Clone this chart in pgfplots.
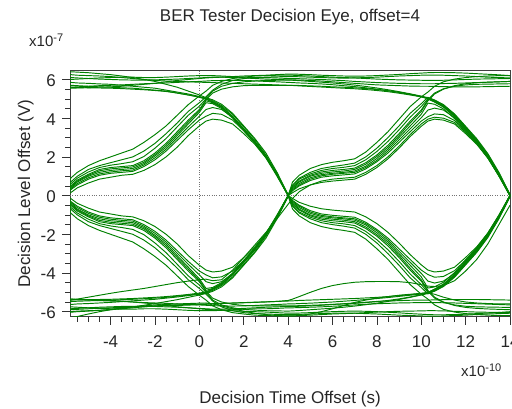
\documentclass[border=0pt]{standalone}
\usepackage{fontspec}
\setmainfont{Liberation Sans}
\usepackage{pgfplots}
\pgfplotsset{compat=1.18}
\definecolor{eyegreen}{RGB}{0,128,0}
\definecolor{txt}{RGB}{38,38,38}
\newcommand{\tf}{\fontsize{17bp}{20bp}\selectfont}
\newcommand{\mf}{\fontsize{15bp}{18bp}\selectfont}
\newcommand{\supf}{\fontsize{11bp}{12bp}\selectfont}
\begin{document}
\begin{tikzpicture}[x=1bp,y=1bp]
\useasboundingbox (0,0) rectangle (512,408);
\begin{axis}[
  at={(70bp,91.3bp)}, anchor=south west,
  scale only axis, width=440bp, height=246.7bp,
  xmin=-5.83, xmax=14, ymin=-6.26, ymax=6.49,
  xtick={-4,-2,...,14}, ytick={-6,-4,...,6},
  minor xtick={-5.5,-5,-4.5,-3.5,-3,-2.5,-1.5,-1,-0.5,0.5,1,1.5,2.5,3,3.5,4.5,5,5.5,6.5,7,7.5,8.5,9,9.5,10.5,11,11.5,12.5,13,13.5},
  minor ytick={-5.5,-5,-4.5,-3.5,-3,-2.5,-1.5,-1,-0.5,0.5,1,1.5,2.5,3,3.5,4.5,5,5.5},
  tick align=outside, xtick pos=bottom, ytick pos=left,
  major tick length=8bp, minor tick length=5bp,
  tick style={black!80, line width=0.6bp},
  axis line style={black!75, line width=0.7bp},
  /pgf/number format/assume math mode=true,
  tick label style={font=\tf, text=txt, inner sep=0pt},
  xticklabel style={anchor=base, yshift=-22.6bp},
  yticklabel style={anchor=base east, xshift=-6bp, yshift=-7bp},
  extra x ticks={0}, extra x tick labels={},
  extra x tick style={grid=major, major tick length=0pt},
  extra y ticks={0}, extra y tick labels={},
  extra y tick style={grid=major, major tick length=0pt},
  major grid style={black!55, line width=0.6bp, dash pattern=on 0.8bp off 1.6bp},
  cycle list={{eyegreen,solid}},
  every axis plot post/.append style={draw=eyegreen, solid, line width=0.95bp, mark=none},
]
% T1
\addplot coordinates {(-6,0)(-5.8,0.9)(-5.5,1.2)(-5,1.55)(-4.5,1.8)(-4,2.0)(-3.5,2.2)(-3,2.4)(-2.5,2.75)(-2,3.15)(-1.5,3.6)(-1,4.15)(-0.5,4.7)(0,5.15)(0.3,5.4)
(0.6,5.7)(1,5.9)(1.5,6.05)(2,6.12)(2.5,6.18)(3,6.2)(3.5,6.22)(4,6.22)
(4.2,6.22)(4.5,6.2)(5,6.18)(5.5,6.15)(6,6.12)(6.5,6.1)(7,6.08)(7.5,6.05)(8,6.02)(8.5,6.0)(9,5.98)(9.5,5.97)(10,5.96)(10.3,5.95)
(10.6,5.95)(11,5.96)(11.5,5.98)(12,6.0)(12.5,6.02)(13,6.03)(13.5,6.04)(14,6.05)};
% T2
\addplot coordinates {(-6,0)(-5.8,0.7)(-5.5,1.0)(-5,1.35)(-4.5,1.55)(-4,1.7)(-3.5,1.85)(-3,2.0)(-2.5,2.3)(-2,2.7)(-1.5,3.2)(-1,3.75)(-0.5,4.35)(0,4.8)(0.3,5.1)
(0.6,5.45)(1,5.75)(1.5,5.95)(2,6.05)(2.5,6.1)(3,6.12)(3.5,6.14)(4,6.15)
(4.2,6.15)(4.5,6.14)(5,6.12)(5.5,6.1)(6,6.08)(6.5,6.07)(7,6.08)(7.5,6.1)(8,6.12)(8.5,6.15)(9,6.18)(9.5,6.2)(10,6.22)(10.3,6.23)
(10.6,6.23)(11,6.22)(11.5,6.2)(12,6.18)(12.5,6.15)(13,6.12)(13.5,6.1)(14,6.08)};
% T3
\addplot coordinates {(-6,0)(-5.8,0.5)(-5.5,0.8)(-5,1.1)(-4.5,1.35)(-4,1.45)(-3.5,1.5)(-3,1.55)(-2.5,1.8)(-2,2.2)(-1.5,2.7)(-1,3.3)(-0.5,3.9)(0,4.45)(0.3,4.95)
(0.6,5.3)(1,5.5)(1.5,5.62)(2,5.68)(2.5,5.7)(3,5.7)(3.5,5.7)(4,5.7)
(4.2,5.7)(4.5,5.69)(5,5.67)(5.5,5.65)(6,5.62)(6.5,5.6)(7,5.57)(7.5,5.53)(8,5.48)(8.5,5.42)(9,5.34)(9.5,5.24)(10,5.12)(10.3,5.02)
(10.6,4.88)(11,4.62)(11.5,4.14)(12,3.5)(12.5,2.84)(13,2.08)(13.5,1.12)(14,0.04)};
% T4
\addplot coordinates {(-6,0)(-5.8,0.4)(-5.5,0.7)(-5,1.0)(-4.5,1.2)(-4,1.3)(-3.5,1.35)(-3,1.4)(-2.5,1.65)(-2,2.05)(-1.5,2.5)(-1,3.1)(-0.5,3.7)(0,4.3)(0.3,4.8)
(0.6,4.75)(1,4.5)(1.5,4.0)(2,3.35)(2.5,2.7)(3,1.95)(3.5,1.05)(4,0)
(4.2,-0.35)(4.5,-0.62)(5,-0.92)(5.5,-1.08)(6,-1.15)(6.5,-1.2)(7,-1.27)(7.5,-1.52)(8,-1.92)(8.5,-2.4)(9,-3.0)(9.5,-3.6)(10,-4.2)(10.3,-4.78)
(10.6,-4.72)(11,-4.48)(11.5,-3.98)(12,-3.33)(12.5,-2.68)(13,-1.93)(13.5,-1.03)(14,0.02)};
% T5
\addplot coordinates {(-6,0)(-5.8,0.3)(-5.5,0.55)(-5,0.85)(-4.5,1.05)(-4,1.15)(-3.5,1.2)(-3,1.25)(-2.5,1.5)(-2,1.85)(-1.5,2.3)(-1,2.85)(-0.5,3.4)(0,3.9)(0.3,4.1)
(0.6,4.25)(1,4.2)(1.5,3.9)(2,3.35)(2.5,2.75)(3,2.0)(3.5,1.05)(4,0)
(4.2,-0.25)(4.5,-0.5)(5,-0.78)(5.5,-0.95)(6,-1.02)(6.5,-1.07)(7,-1.12)(7.5,-1.38)(8,-1.75)(8.5,-2.2)(9,-2.75)(9.5,-3.3)(10,-3.85)(10.3,-4.08)
(10.6,-4.22)(11,-4.18)(11.5,-3.88)(12,-3.33)(12.5,-2.73)(13,-1.98)(13.5,-1.04)(14,0)};
% T6
\addplot coordinates {(-6,0)(-5.8,0.15)(-5.5,0.4)(-5,0.65)(-4.5,0.85)(-4,0.95)(-3.5,1.05)(-3,1.1)(-2.5,1.3)(-2,1.6)(-1.5,2.0)(-1,2.5)(-0.5,3.1)(0,3.6)(0.3,3.85)
(0.6,3.95)(1,3.9)(1.5,3.7)(2,3.2)(2.5,2.65)(3,1.95)(3.5,1.0)(4,0)
(4.2,-0.15)(4.5,-0.35)(5,-0.55)(5.5,-0.68)(6,-0.75)(6.5,-0.8)(7,-0.85)(7.5,-1.1)(8,-1.45)(8.5,-1.9)(9,-2.45)(9.5,-3.05)(10,-3.58)(10.3,-3.85)
(10.6,-3.95)(11,-3.9)(11.5,-3.7)(12,-3.2)(12.5,-2.65)(13,-1.95)(13.5,-1.0)(14,0)};
% T7
\addplot coordinates {(-6,0)(-5.8,0.45)(-5.5,0.75)(-5,1.05)(-4.5,1.28)(-4,1.38)(-3.5,1.43)(-3,1.48)(-2.5,1.72)(-2,2.12)(-1.5,2.6)(-1,3.2)(-0.5,3.8)(0,4.38)(0.3,4.9)
(0.6,4.8)(1,4.55)(1.5,4.05)(2,3.4)(2.5,2.75)(3,2.0)(3.5,1.08)(4,0)
(4.2,-0.4)(4.5,-0.7)(5,-1.0)(5.5,-1.15)(6,-1.22)(6.5,-1.27)(7,-1.35)(7.5,-1.62)(8,-2.02)(8.5,-2.5)(9,-3.1)(9.5,-3.75)(10,-4.35)(10.3,-4.9)
(10.6,-5.25)(11,-5.5)(11.5,-5.68)(12,-5.78)(12.5,-5.83)(13,-5.86)(13.5,-5.88)(14,-5.9)};
% T8
\addplot coordinates {(-6,0)(-5.8,0.6)(-5.5,0.9)(-5,1.22)(-4.5,1.45)(-4,1.57)(-3.5,1.65)(-3,1.75)(-2.5,2.02)(-2,2.45)(-1.5,2.95)(-1,3.55)(-0.5,4.15)(0,4.62)(0.3,5.0)
(0.6,5.4)(1,5.65)(1.5,5.8)(2,5.88)(2.5,5.92)(3,5.95)(3.5,5.96)(4,5.97)
(4.2,5.96)(4.5,5.94)(5,5.9)(5.5,5.86)(6,5.82)(6.5,5.77)(7,5.71)(7.5,5.64)(8,5.56)(8.5,5.47)(9,5.37)(9.5,5.26)(10,5.14)(10.3,5.06)
(10.6,4.94)(11,4.7)(11.5,4.22)(12,3.58)(12.5,2.94)(13,2.17)(13.5,1.2)(14,0.06)};
% T9
\addplot coordinates {(-6,0)(-5.8,0.35)(-5.5,0.62)(-5,0.92)(-4.5,1.12)(-4,1.22)(-3.5,1.28)(-3,1.32)(-2.5,1.58)(-2,1.95)(-1.5,2.4)(-1,2.98)(-0.5,3.55)(0,4.1)(0.3,4.45)
(0.6,4.55)(1,4.45)(1.5,4.05)(2,3.45)(2.5,2.8)(3,2.02)(3.5,1.08)(4,0)
(4.2,-0.3)(4.5,-0.55)(5,-0.85)(5.5,-1.02)(6,-1.1)(6.5,-1.15)(7,-1.2)(7.5,-1.45)(8,-1.82)(8.5,-2.3)(9,-2.88)(9.5,-3.45)(10,-4.02)(10.3,-4.42)
(10.6,-4.52)(11,-4.42)(11.5,-4.03)(12,-3.43)(12.5,-2.78)(13,-2.0)(13.5,-1.06)(14,0)};
% T10
\addplot coordinates {(-6,5.72)(-5.8,5.7)(-5.5,5.68)(-5,5.65)(-4.5,5.62)(-4,5.6)(-3.5,5.57)(-3,5.55)(-2.5,5.5)(-2,5.45)(-1.5,5.4)(-1,5.3)(-0.5,5.2)(0,5.1)(0.3,5.0)
(0.6,4.85)(1,4.6)(1.5,4.1)(2,3.45)(2.5,2.8)(3,2.05)(3.5,1.1)(4,0)
(4.2,-0.7)(4.5,-1.05)(5,-1.4)(5.5,-1.6)(6,-1.72)(6.5,-1.8)(7,-1.9)(7.5,-2.25)(8,-2.75)(8.5,-3.3)(9,-3.95)(9.5,-4.6)(10,-5.1)(10.3,-5.35)
(10.6,-5.65)(11,-5.88)(11.5,-6.02)(12,-6.1)(12.5,-6.15)(13,-6.18)(13.5,-6.2)(14,-6.2)};
% T11
\addplot coordinates {(-6,5.88)(-5.8,5.85)(-5.5,5.82)(-5,5.8)(-4.5,5.77)(-4,5.75)(-3.5,5.7)(-3,5.65)(-2.5,5.6)(-2,5.55)(-1.5,5.45)(-1,5.35)(-0.5,5.25)(0,5.12)(0.3,5.03)
(0.6,4.9)(1,4.65)(1.5,4.2)(2,3.55)(2.5,2.9)(3,2.1)(3.5,1.15)(4,0)
(4.2,-0.55)(4.5,-0.9)(5,-1.2)(5.5,-1.4)(6,-1.5)(6.5,-1.58)(7,-1.68)(7.5,-2.0)(8,-2.45)(8.5,-3.0)(9,-3.6)(9.5,-4.25)(10,-4.75)(10.3,-5.08)
(10.6,-4.93)(11,-4.68)(11.5,-4.18)(12,-3.52)(12.5,-2.88)(13,-2.1)(13.5,-1.13)(14,-0.02)};
% T12
\addplot coordinates {(-6,6.42)(-5.8,6.4)(-5.5,6.38)(-5,6.35)(-4.5,6.3)(-4,6.25)(-3.5,6.18)(-3,6.1)(-2.5,6.0)(-2,5.9)(-1.5,5.75)(-1,5.6)(-0.5,5.4)(0,5.2)(0.3,5.06)
(0.6,4.95)(1,4.72)(1.5,4.25)(2,3.6)(2.5,2.95)(3,2.2)(3.5,1.2)(4,0.05)
(4.2,-0.45)(4.5,-0.75)(5,-1.05)(5.5,-1.22)(6,-1.3)(6.5,-1.35)(7,-1.42)(7.5,-1.7)(8,-2.1)(8.5,-2.6)(9,-3.2)(9.5,-3.85)(10,-4.42)(10.3,-4.95)
(10.6,-5.3)(11,-5.52)(11.5,-5.65)(12,-5.72)(12.5,-5.75)(13,-5.76)(13.5,-5.77)(14,-5.78)};
% T13
\addplot coordinates {(-6,5.6)(-5.8,5.6)(-5.5,5.58)(-5,5.57)(-4.5,5.56)(-4,5.55)(-3.5,5.53)(-3,5.5)(-2.5,5.47)(-2,5.43)(-1.5,5.38)(-1,5.3)(-0.5,5.2)(0,5.08)(0.3,4.98)
(0.6,4.82)(1,4.58)(1.5,4.08)(2,3.42)(2.5,2.78)(3,2.02)(3.5,1.12)(4,0.02)
(4.2,-0.5)(4.5,-0.85)(5,-1.12)(5.5,-1.3)(6,-1.4)(6.5,-1.46)(7,-1.55)(7.5,-1.85)(8,-2.28)(8.5,-2.8)(9,-3.4)(9.5,-4.05)(10,-4.6)(10.3,-5.0)
(10.6,-4.85)(11,-4.6)(11.5,-4.1)(12,-3.45)(12.5,-2.8)(13,-2.05)(13.5,-1.1)(14,0)};
% T14
\addplot coordinates {(-6,6.0)(-5.8,6.0)(-5.5,6.02)(-5,6.05)(-4.5,6.08)(-4,6.1)(-3.5,6.12)(-3,6.12)(-2.5,6.1)(-2,6.1)(-1.5,6.12)(-1,6.15)(-0.5,6.18)(0,6.2)(0.3,6.2)
(0.6,6.2)(1,6.18)(1.5,6.15)(2,6.12)(2.5,6.1)(3,6.1)(3.5,6.08)(4,6.05)
(4.2,6.05)(4.5,6.04)(5,6.02)(5.5,6.0)(6,5.97)(6.5,5.94)(7,5.9)(7.5,5.87)(8,5.84)(8.5,5.82)(9,5.8)(9.5,5.79)(10,5.78)(10.3,5.78)
(10.6,5.78)(11,5.79)(11.5,5.8)(12,5.82)(12.5,5.84)(13,5.86)(13.5,5.88)(14,5.9)};
% T15
\addplot coordinates {(-6,5.58)(-5.8,5.6)(-5.5,5.62)(-5,5.65)(-4.5,5.68)(-4,5.7)(-3.5,5.72)(-3,5.75)(-2.5,5.78)(-2,5.8)(-1.5,5.82)(-1,5.85)(-0.5,5.88)(0,5.9)(0.3,5.92)
(0.6,5.94)(1,5.95)(1.5,5.96)(2,5.95)(2.5,5.93)(3,5.9)(3.5,5.88)(4,5.85)
(4.2,5.84)(4.5,5.82)(5,5.8)(5.5,5.77)(6,5.73)(6.5,5.68)(7,5.63)(7.5,5.57)(8,5.5)(8.5,5.42)(9,5.33)(9.5,5.23)(10,5.12)(10.3,5.04)
(10.6,4.9)(11,4.66)(11.5,4.18)(12,3.55)(12.5,2.9)(13,2.12)(13.5,1.16)(14,0.03)};
% T16
\addplot coordinates {(-6,6.28)(-5.8,6.25)(-5.5,6.22)(-5,6.2)(-4.5,6.18)(-4,6.15)(-3.5,6.1)(-3,6.05)(-2.5,6.0)(-2,5.95)(-1.5,5.92)(-1,5.9)(-0.5,5.88)(0,5.86)(0.3,5.85)
(0.6,5.84)(1,5.82)(1.5,5.8)(2,5.78)(2.5,5.76)(3,5.74)(3.5,5.72)(4,5.7)
(4.2,5.69)(4.5,5.67)(5,5.64)(5.5,5.61)(6,5.58)(6.5,5.55)(7,5.52)(7.5,5.48)(8,5.43)(8.5,5.37)(9,5.29)(9.5,5.2)(10,5.1)(10.3,5.0)
(10.6,4.83)(11,4.57)(11.5,4.07)(12,3.4)(12.5,2.76)(13,2.0)(13.5,1.07)(14,-0.02)};
% T17
\addplot coordinates {(-6,5.55)(-5.8,5.55)(-5.5,5.56)(-5,5.58)(-4.5,5.6)(-4,5.62)(-3.5,5.65)(-3,5.7)(-2.5,5.75)(-2,5.8)(-1.5,5.88)(-1,5.95)(-0.5,6.0)(0,6.05)(0.3,6.08)
(0.6,6.1)(1,6.12)(1.5,6.15)(2,6.18)(2.5,6.2)(3,6.22)(3.5,6.25)(4,6.28)
(4.2,6.28)(4.5,6.27)(5,6.25)(5.5,6.22)(6,6.2)(6.5,6.18)(7,6.17)(7.5,6.18)(8,6.2)(8.5,6.23)(9,6.26)(9.5,6.3)(10,6.33)(10.3,6.35)
(10.6,6.36)(11,6.36)(11.5,6.35)(12,6.33)(12.5,6.3)(13,6.27)(13.5,6.24)(14,6.2)};
% T18
\addplot coordinates {(-6,6.1)(-5.8,6.1)(-5.5,6.08)(-5,6.05)(-4.5,6.02)(-4,6.0)(-3.5,5.98)(-3,5.97)(-2.5,5.97)(-2,5.98)(-1.5,6.0)(-1,6.02)(-0.5,6.05)(0,6.08)(0.3,6.1)
(0.6,6.12)(1,6.12)(1.5,6.1)(2,6.08)(2.5,6.05)(3,6.02)(3.5,6.0)(4,5.98)
(4.2,5.98)(4.5,5.97)(5,5.95)(5.5,5.92)(6,5.88)(6.5,5.84)(7,5.8)(7.5,5.76)(8,5.72)(8.5,5.7)(9,5.68)(9.5,5.66)(10,5.65)(10.3,5.65)
(10.6,5.64)(11,5.63)(11.5,5.62)(12,5.62)(12.5,5.62)(13,5.63)(13.5,5.64)(14,5.65)};
% M1
\addplot coordinates {(-6,0)(-5.8,-0.9)(-5.5,-1.2)(-5,-1.55)(-4.5,-1.8)(-4,-2.0)(-3.5,-2.2)(-3,-2.4)(-2.5,-2.75)(-2,-3.15)(-1.5,-3.6)(-1,-4.15)(-0.5,-4.7)(0,-5.15)(0.3,-5.4)
(0.6,-5.7)(1,-5.9)(1.5,-6.05)(2,-6.12)(2.5,-6.18)(3,-6.2)(3.5,-6.22)(4,-6.22)
(4.2,-6.22)(4.5,-6.2)(5,-6.18)(5.5,-6.15)(6,-6.12)(6.5,-6.1)(7,-6.08)(7.5,-6.05)(8,-6.02)(8.5,-6.0)(9,-5.98)(9.5,-5.97)(10,-5.96)(10.3,-5.95)
(10.6,-5.95)(11,-5.96)(11.5,-5.98)(12,-6.0)(12.5,-6.02)(13,-6.03)(13.5,-6.04)(14,-6.05)};
% M2
\addplot coordinates {(-6,0)(-5.8,-0.7)(-5.5,-1.0)(-5,-1.35)(-4.5,-1.55)(-4,-1.7)(-3.5,-1.85)(-3,-2.0)(-2.5,-2.3)(-2,-2.7)(-1.5,-3.2)(-1,-3.75)(-0.5,-4.35)(0,-4.8)(0.3,-5.1)
(0.6,-5.45)(1,-5.75)(1.5,-5.95)(2,-6.05)(2.5,-6.1)(3,-6.12)(3.5,-6.14)(4,-6.15)
(4.2,-6.15)(4.5,-6.14)(5,-6.12)(5.5,-6.1)(6,-6.08)(6.5,-6.07)(7,-6.08)(7.5,-6.1)(8,-6.12)(8.5,-6.15)(9,-6.18)(9.5,-6.2)(10,-6.22)(10.3,-6.23)
(10.6,-6.23)(11,-6.22)(11.5,-6.2)(12,-6.18)(12.5,-6.15)(13,-6.12)(13.5,-6.1)(14,-6.08)};
% M3
\addplot coordinates {(-6,0)(-5.8,-0.5)(-5.5,-0.8)(-5,-1.1)(-4.5,-1.35)(-4,-1.45)(-3.5,-1.5)(-3,-1.55)(-2.5,-1.8)(-2,-2.2)(-1.5,-2.7)(-1,-3.3)(-0.5,-3.9)(0,-4.45)(0.3,-4.95)
(0.6,-5.3)(1,-5.5)(1.5,-5.62)(2,-5.68)(2.5,-5.7)(3,-5.7)(3.5,-5.7)(4,-5.7)
(4.2,-5.7)(4.5,-5.69)(5,-5.67)(5.5,-5.65)(6,-5.62)(6.5,-5.6)(7,-5.57)(7.5,-5.53)(8,-5.48)(8.5,-5.42)(9,-5.34)(9.5,-5.24)(10,-5.12)(10.3,-5.02)
(10.6,-4.88)(11,-4.62)(11.5,-4.14)(12,-3.5)(12.5,-2.84)(13,-2.08)(13.5,-1.12)(14,-0.04)};
% M4
\addplot coordinates {(-6,0)(-5.8,-0.4)(-5.5,-0.7)(-5,-1.0)(-4.5,-1.2)(-4,-1.3)(-3.5,-1.35)(-3,-1.4)(-2.5,-1.65)(-2,-2.05)(-1.5,-2.5)(-1,-3.1)(-0.5,-3.7)(0,-4.3)(0.3,-4.8)
(0.6,-4.75)(1,-4.5)(1.5,-4.0)(2,-3.35)(2.5,-2.7)(3,-1.95)(3.5,-1.05)(4,0)
(4.2,0.35)(4.5,0.62)(5,0.92)(5.5,1.08)(6,1.15)(6.5,1.2)(7,1.27)(7.5,1.52)(8,1.92)(8.5,2.4)(9,3.0)(9.5,3.6)(10,4.2)(10.3,4.78)
(10.6,4.72)(11,4.48)(11.5,3.98)(12,3.33)(12.5,2.68)(13,1.93)(13.5,1.03)(14,-0.02)};
% M5
\addplot coordinates {(-6,0)(-5.8,-0.3)(-5.5,-0.55)(-5,-0.85)(-4.5,-1.05)(-4,-1.15)(-3.5,-1.2)(-3,-1.25)(-2.5,-1.5)(-2,-1.85)(-1.5,-2.3)(-1,-2.85)(-0.5,-3.4)(0,-3.9)(0.3,-4.1)
(0.6,-4.25)(1,-4.2)(1.5,-3.9)(2,-3.35)(2.5,-2.75)(3,-2.0)(3.5,-1.05)(4,0)
(4.2,0.25)(4.5,0.5)(5,0.78)(5.5,0.95)(6,1.02)(6.5,1.07)(7,1.12)(7.5,1.38)(8,1.75)(8.5,2.2)(9,2.75)(9.5,3.3)(10,3.85)(10.3,4.08)
(10.6,4.22)(11,4.18)(11.5,3.88)(12,3.33)(12.5,2.73)(13,1.98)(13.5,1.04)(14,0)};
% M6
\addplot coordinates {(-6,0)(-5.8,-0.15)(-5.5,-0.4)(-5,-0.65)(-4.5,-0.85)(-4,-0.95)(-3.5,-1.05)(-3,-1.1)(-2.5,-1.3)(-2,-1.6)(-1.5,-2.0)(-1,-2.5)(-0.5,-3.1)(0,-3.6)(0.3,-3.85)
(0.6,-3.95)(1,-3.9)(1.5,-3.7)(2,-3.2)(2.5,-2.65)(3,-1.95)(3.5,-1.0)(4,0)
(4.2,0.15)(4.5,0.35)(5,0.55)(5.5,0.68)(6,0.75)(6.5,0.8)(7,0.85)(7.5,1.1)(8,1.45)(8.5,1.9)(9,2.45)(9.5,3.05)(10,3.58)(10.3,3.85)
(10.6,3.95)(11,3.9)(11.5,3.7)(12,3.2)(12.5,2.65)(13,1.95)(13.5,1.0)(14,0)};
% M7
\addplot coordinates {(-6,0)(-5.8,-0.45)(-5.5,-0.75)(-5,-1.05)(-4.5,-1.28)(-4,-1.38)(-3.5,-1.43)(-3,-1.48)(-2.5,-1.72)(-2,-2.12)(-1.5,-2.6)(-1,-3.2)(-0.5,-3.8)(0,-4.38)(0.3,-4.9)
(0.6,-4.8)(1,-4.55)(1.5,-4.05)(2,-3.4)(2.5,-2.75)(3,-2.0)(3.5,-1.08)(4,0)
(4.2,0.4)(4.5,0.7)(5,1.0)(5.5,1.15)(6,1.22)(6.5,1.27)(7,1.35)(7.5,1.62)(8,2.02)(8.5,2.5)(9,3.1)(9.5,3.75)(10,4.35)(10.3,4.9)
(10.6,5.25)(11,5.5)(11.5,5.68)(12,5.78)(12.5,5.83)(13,5.86)(13.5,5.88)(14,5.9)};
% M8
\addplot coordinates {(-6,0)(-5.8,-0.6)(-5.5,-0.9)(-5,-1.22)(-4.5,-1.45)(-4,-1.57)(-3.5,-1.65)(-3,-1.75)(-2.5,-2.02)(-2,-2.45)(-1.5,-2.95)(-1,-3.55)(-0.5,-4.15)(0,-4.62)(0.3,-5.0)
(0.6,-5.4)(1,-5.65)(1.5,-5.8)(2,-5.88)(2.5,-5.92)(3,-5.95)(3.5,-5.96)(4,-5.97)
(4.2,-5.96)(4.5,-5.94)(5,-5.9)(5.5,-5.86)(6,-5.82)(6.5,-5.77)(7,-5.71)(7.5,-5.64)(8,-5.56)(8.5,-5.47)(9,-5.37)(9.5,-5.26)(10,-5.14)(10.3,-5.06)
(10.6,-4.94)(11,-4.7)(11.5,-4.22)(12,-3.58)(12.5,-2.94)(13,-2.17)(13.5,-1.2)(14,-0.06)};
% M9
\addplot coordinates {(-6,0)(-5.8,-0.35)(-5.5,-0.62)(-5,-0.92)(-4.5,-1.12)(-4,-1.22)(-3.5,-1.28)(-3,-1.32)(-2.5,-1.58)(-2,-1.95)(-1.5,-2.4)(-1,-2.98)(-0.5,-3.55)(0,-4.1)(0.3,-4.45)
(0.6,-4.55)(1,-4.45)(1.5,-4.05)(2,-3.45)(2.5,-2.8)(3,-2.02)(3.5,-1.08)(4,0)
(4.2,0.3)(4.5,0.55)(5,0.85)(5.5,1.02)(6,1.1)(6.5,1.15)(7,1.2)(7.5,1.45)(8,1.82)(8.5,2.3)(9,2.88)(9.5,3.45)(10,4.02)(10.3,4.42)
(10.6,4.52)(11,4.42)(11.5,4.03)(12,3.43)(12.5,2.78)(13,2.0)(13.5,1.06)(14,0)};
% M10
\addplot coordinates {(-6,-5.5)(-5.8,-5.48)(-5.5,-5.46)(-5,-5.44)(-4.5,-5.42)(-4,-5.4)(-3.5,-5.38)(-3,-5.36)(-2.5,-5.33)(-2,-5.3)(-1.5,-5.26)(-1,-5.2)(-0.5,-5.14)(0,-5.07)(0.3,-5.0)
(0.6,-4.85)(1,-4.6)(1.5,-4.1)(2,-3.45)(2.5,-2.8)(3,-2.05)(3.5,-1.1)(4,0)
(4.2,0.7)(4.5,1.05)(5,1.4)(5.5,1.6)(6,1.72)(6.5,1.8)(7,1.9)(7.5,2.25)(8,2.75)(8.5,3.3)(9,3.95)(9.5,4.6)(10,5.1)(10.3,5.35)
(10.6,5.65)(11,5.88)(11.5,6.02)(12,6.1)(12.5,6.15)(13,6.18)(13.5,6.2)(14,6.2)};
% M11
\addplot coordinates {(-6,-5.65)(-5.8,-5.63)(-5.5,-5.6)(-5,-5.58)(-4.5,-5.55)(-4,-5.52)(-3.5,-5.48)(-3,-5.44)(-2.5,-5.4)(-2,-5.36)(-1.5,-5.3)(-1,-5.24)(-0.5,-5.17)(0,-5.1)(0.3,-5.03)
(0.6,-4.9)(1,-4.65)(1.5,-4.2)(2,-3.55)(2.5,-2.9)(3,-2.1)(3.5,-1.15)(4,0)
(4.2,0.55)(4.5,0.9)(5,1.2)(5.5,1.4)(6,1.5)(6.5,1.58)(7,1.68)(7.5,2.0)(8,2.45)(8.5,3.0)(9,3.6)(9.5,4.25)(10,4.75)(10.3,5.08)
(10.6,4.93)(11,4.68)(11.5,4.18)(12,3.52)(12.5,2.88)(13,2.1)(13.5,1.13)(14,0.02)};
% M12
\addplot coordinates {(-6,-6.05)(-5.8,-6.03)(-5.5,-6.0)(-5,-5.97)(-4.5,-5.93)(-4,-5.88)(-3.5,-5.82)(-3,-5.75)(-2.5,-5.67)(-2,-5.58)(-1.5,-5.48)(-1,-5.38)(-0.5,-5.26)(0,-5.14)(0.3,-5.06)
(0.6,-4.95)(1,-4.72)(1.5,-4.25)(2,-3.6)(2.5,-2.95)(3,-2.2)(3.5,-1.2)(4,-0.05)
(4.2,0.45)(4.5,0.75)(5,1.05)(5.5,1.22)(6,1.3)(6.5,1.35)(7,1.42)(7.5,1.7)(8,2.1)(8.5,2.6)(9,3.2)(9.5,3.85)(10,4.42)(10.3,4.95)
(10.6,5.3)(11,5.52)(11.5,5.65)(12,5.72)(12.5,5.75)(13,5.76)(13.5,5.77)(14,5.78)};
% M13
\addplot coordinates {(-6,-5.4)(-5.8,-5.4)(-5.5,-5.39)(-5,-5.38)(-4.5,-5.37)(-4,-5.36)(-3.5,-5.34)(-3,-5.32)(-2.5,-5.29)(-2,-5.26)(-1.5,-5.22)(-1,-5.17)(-0.5,-5.11)(0,-5.04)(0.3,-4.98)
(0.6,-4.82)(1,-4.58)(1.5,-4.08)(2,-3.42)(2.5,-2.78)(3,-2.02)(3.5,-1.12)(4,-0.02)
(4.2,0.5)(4.5,0.85)(5,1.12)(5.5,1.3)(6,1.4)(6.5,1.46)(7,1.55)(7.5,1.85)(8,2.28)(8.5,2.8)(9,3.4)(9.5,4.05)(10,4.6)(10.3,5.0)
(10.6,4.85)(11,4.6)(11.5,4.1)(12,3.45)(12.5,2.8)(13,2.05)(13.5,1.1)(14,0)};
% M14
\addplot coordinates {(-6,-5.75)(-5.8,-5.75)(-5.5,-5.77)(-5,-5.8)(-4.5,-5.83)(-4,-5.85)(-3.5,-5.87)(-3,-5.87)(-2.5,-5.85)(-2,-5.85)(-1.5,-5.87)(-1,-5.9)(-0.5,-5.93)(0,-5.95)(0.3,-5.95)
(0.6,-5.95)(1,-5.93)(1.5,-5.9)(2,-5.87)(2.5,-5.85)(3,-5.85)(3.5,-5.83)(4,-5.8)
(4.2,-5.8)(4.5,-5.79)(5,-5.77)(5.5,-5.75)(6,-5.72)(6.5,-5.69)(7,-5.65)(7.5,-5.62)(8,-5.59)(8.5,-5.57)(9,-5.55)(9.5,-5.54)(10,-5.53)(10.3,-5.53)
(10.6,-5.53)(11,-5.54)(11.5,-5.55)(12,-5.57)(12.5,-5.59)(13,-5.61)(13.5,-5.63)(14,-5.65)};
% M15
\addplot coordinates {(-6,-5.33)(-5.8,-5.35)(-5.5,-5.37)(-5,-5.4)(-4.5,-5.43)(-4,-5.45)(-3.5,-5.47)(-3,-5.5)(-2.5,-5.53)(-2,-5.55)(-1.5,-5.57)(-1,-5.6)(-0.5,-5.63)(0,-5.65)(0.3,-5.67)
(0.6,-5.69)(1,-5.7)(1.5,-5.71)(2,-5.7)(2.5,-5.68)(3,-5.65)(3.5,-5.63)(4,-5.6)
(4.2,-5.6)(4.5,-5.58)(5,-5.56)(5.5,-5.53)(6,-5.5)(6.5,-5.46)(7,-5.42)(7.5,-5.37)(8,-5.32)(8.5,-5.27)(9,-5.21)(9.5,-5.15)(10,-5.09)(10.3,-5.04)
(10.6,-4.9)(11,-4.66)(11.5,-4.18)(12,-3.55)(12.5,-2.9)(13,-2.12)(13.5,-1.16)(14,-0.03)};
% M16
\addplot coordinates {(-6,-6.03)(-5.8,-6.0)(-5.5,-5.97)(-5,-5.95)(-4.5,-5.93)(-4,-5.9)(-3.5,-5.85)(-3,-5.8)(-2.5,-5.75)(-2,-5.7)(-1.5,-5.67)(-1,-5.65)(-0.5,-5.63)(0,-5.61)(0.3,-5.6)
(0.6,-5.59)(1,-5.57)(1.5,-5.55)(2,-5.53)(2.5,-5.51)(3,-5.49)(3.5,-5.47)(4,-5.45)
(4.2,-5.44)(4.5,-5.42)(5,-5.4)(5.5,-5.38)(6,-5.36)(6.5,-5.34)(7,-5.32)(7.5,-5.29)(8,-5.26)(8.5,-5.22)(9,-5.17)(9.5,-5.12)(10,-5.06)(10.3,-5.0)
(10.6,-4.83)(11,-4.57)(11.5,-4.07)(12,-3.4)(12.5,-2.76)(13,-2.0)(13.5,-1.07)(14,0.02)};
% M17
\addplot coordinates {(-6,-5.35)(-5.8,-5.35)(-5.5,-5.36)(-5,-5.38)(-4.5,-5.4)(-4,-5.42)(-3.5,-5.45)(-3,-5.5)(-2.5,-5.55)(-2,-5.6)(-1.5,-5.68)(-1,-5.75)(-0.5,-5.8)(0,-5.85)(0.3,-5.88)
(0.6,-5.9)(1,-5.92)(1.5,-5.95)(2,-5.98)(2.5,-6.0)(3,-6.02)(3.5,-6.05)(4,-6.08)
(4.2,-6.08)(4.5,-6.07)(5,-6.05)(5.5,-6.02)(6,-6.0)(6.5,-5.98)(7,-5.97)(7.5,-5.98)(8,-6.0)(8.5,-6.03)(9,-6.06)(9.5,-6.1)(10,-6.13)(10.3,-6.15)
(10.6,-6.16)(11,-6.16)(11.5,-6.15)(12,-6.13)(12.5,-6.1)(13,-6.07)(13.5,-6.04)(14,-6.0)};
% M18
\addplot coordinates {(-6,-5.85)(-5.8,-5.85)(-5.5,-5.83)(-5,-5.8)(-4.5,-5.77)(-4,-5.75)(-3.5,-5.73)(-3,-5.72)(-2.5,-5.72)(-2,-5.73)(-1.5,-5.75)(-1,-5.77)(-0.5,-5.8)(0,-5.83)(0.3,-5.85)
(0.6,-5.87)(1,-5.87)(1.5,-5.85)(2,-5.83)(2.5,-5.8)(3,-5.77)(3.5,-5.75)(4,-5.73)
(4.2,-5.73)(4.5,-5.72)(5,-5.7)(5.5,-5.67)(6,-5.63)(6.5,-5.59)(7,-5.55)(7.5,-5.51)(8,-5.47)(8.5,-5.45)(9,-5.43)(9.5,-5.41)(10,-5.4)(10.3,-5.4)
(10.6,-5.39)(11,-5.38)(11.5,-5.37)(12,-5.37)(12.5,-5.37)(13,-5.38)(13.5,-5.39)(14,-5.4)};
% O1
\addplot coordinates {(-6,-5.45)(-5.8,-5.4)(-5.5,-5.35)(-5,-5.25)(-4.5,-5.15)(-4,-5.05)(-3.5,-4.96)(-3,-4.88)(-2.5,-4.8)(-2,-4.7)(-1.5,-4.6)(-1,-4.5)(-0.5,-4.42)(0,-4.35)(0.3,-4.32)
(0.6,-4.4)(1,-4.35)(1.5,-3.85)(2,-3.2)(2.5,-2.55)(3,-1.9)(3.5,-1.2)(4,-0.45)
(4.2,-0.15)(4.5,0.2)(5,0.55)(5.5,0.75)(6,0.85)(6.5,0.9)(7,0.95)(7.5,1.2)(8,1.55)(8.5,2.0)(9,2.55)(9.5,3.15)(10,3.7)(10.3,3.95)
(10.6,4.05)(11,4.0)(11.5,3.78)(12,3.27)(12.5,2.7)(13,1.97)(13.5,1.02)(14,0)};
% O2
\addplot coordinates {(-6,-5.9)(-5.8,-5.9)(-5.5,-5.88)(-5,-5.85)(-4.5,-5.82)(-4,-5.8)(-3.5,-5.78)(-3,-5.76)(-2.5,-5.74)(-2,-5.72)(-1.5,-5.7)(-1,-5.68)(-0.5,-5.66)(0,-5.64)(0.3,-5.62)
(0.6,-5.6)(1,-5.58)(1.5,-5.56)(2,-5.54)(2.5,-5.52)(3,-5.5)(3.5,-5.47)(4,-5.42)
(4.2,-5.35)(4.5,-5.22)(5,-5.0)(5.5,-4.8)(6,-4.65)(6.5,-4.55)(7,-4.48)(7.5,-4.45)(8,-4.44)(8.5,-4.44)(9,-4.45)(9.5,-4.5)(10,-4.6)(10.3,-4.68)
(10.6,-4.7)(11,-4.65)(11.5,-4.4)(12,-3.9)(12.5,-3.3)(13,-2.5)(13.5,-1.5)(14,-0.5)};
% O3
\addplot coordinates {(-6,-6.35)(-5.8,-6.3)(-5.5,-6.25)(-5,-6.12)(-4.5,-6.0)(-4,-5.9)(-3.5,-5.82)(-3,-5.75)(-2.5,-5.7)(-2,-5.66)(-1.5,-5.63)(-1,-5.6)(-0.5,-5.58)(0,-5.56)(0.3,-5.55)
(0.6,-5.6)(1,-5.7)(1.5,-5.85)(2,-5.98)(2.5,-6.08)(3,-6.15)(3.5,-6.2)(4,-6.22)
(4.2,-6.22)(4.5,-6.2)(5,-6.12)(5.5,-6.0)(6,-5.85)(6.5,-5.68)(7,-5.52)(7.5,-5.4)(8,-5.3)(8.5,-5.22)(9,-5.15)(9.5,-5.1)(10,-5.05)(10.3,-5.02)
(10.6,-5.1)(11,-5.25)(11.5,-5.4)(12,-5.5)(12.5,-5.55)(13,-5.58)(13.5,-5.6)(14,-5.6)};
\end{axis}
\node[anchor=base, inner sep=0pt, font=\tf, text=txt] at (290,387) {BER Tester Decision Eye, offset=4};
\node[anchor=base west, inner sep=0pt, font=\mf, text=txt] at (29,361.3) {x10\raisebox{5bp}{\supf -7}};
\node[anchor=base, inner sep=0pt, font=\tf, text=txt] at (290,5) {Decision Time Offset (s)};
\node[anchor=base west, inner sep=0pt, font=\mf, text=txt] at (461,31.3) {x10\raisebox{5bp}{\supf -10}};
\node[anchor=base, rotate=90, inner sep=0pt, font=\tf, text=txt] at (30,214.5) {Decision Level Offset (V)};
\end{tikzpicture}
\end{document}
